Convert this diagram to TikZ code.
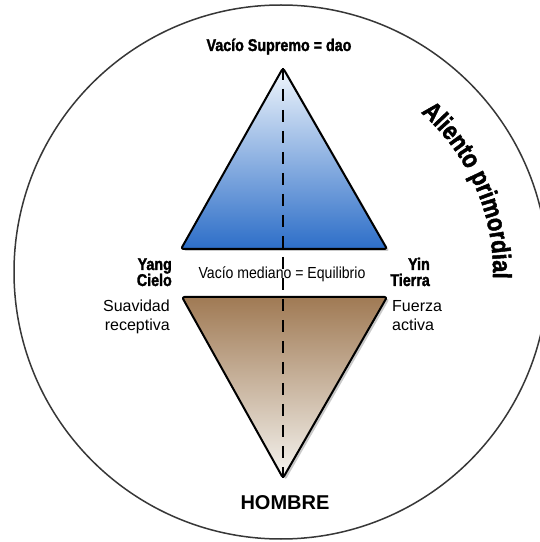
\documentclass[tikz,border=0pt]{standalone}
\usepackage{fontspec}
\setmainfont{Liberation Sans}
\newfontfamily\imp[FakeStretch=0.84,FakeBold=1.8]{Liberation Sans Bold}
\usetikzlibrary{decorations.text,shadows}
\definecolor{blueTop}{RGB}{240,246,252}
\definecolor{blueBot}{RGB}{45,110,200}
\definecolor{brownTop}{RGB}{160,122,84}
\definecolor{brownBot}{RGB}{245,244,240}
\definecolor{ring}{RGB}{55,55,55}
\begin{document}
\begin{tikzpicture}[x=1pt,y=1pt,
  tri/.style={draw=black,line width=2pt,rounded corners=2.5pt,line join=round,
    drop shadow={shadow xshift=2.5pt,shadow yshift=-2pt,opacity=0.35,fill=black!60}},
  cond/.style={font=\imp\fontsize{17}{17}\selectfont, inner sep=0pt},
  plain/.style={font=\fontsize{16}{16}\selectfont, inner sep=0pt}]
\useasboundingbox (0,0) rectangle (540,542);
\clip (0,0) rectangle (540,542);
\fill[white] (0,0) rectangle (540,542);
\coordinate (c) at (281,270);
\draw[ring, line width=1.5pt] (c) circle[radius=267];
% triangles
\coordinate (topA) at (283,474);
\coordinate (topL) at (181,293);
\coordinate (topR) at (387,293);
\coordinate (botL) at (182,245);
\coordinate (botR) at (387,245);
\coordinate (botA) at (283,64);
\path[tri, top color=blueTop, bottom color=blueBot] (topA) -- (topR) -- (topL) -- cycle;
\path[tri, top color=brownTop, bottom color=brownBot] (botL) -- (botR) -- (botA) -- cycle;
\draw[black, line width=1.4pt, dash pattern=on 12pt off 9pt] (topA) -- (botA);
% texts
\node[cond, anchor=base] (dao) at (279,491) {Vacío Supremo = dao};
\node[plain, anchor=base] (med) at (282,263) {\scalebox{0.88}[1]{Vacío mediano = Equilibrio}};
\node[font=\bfseries\fontsize{20}{20}\selectfont, inner sep=0pt, anchor=base] (hom) at (285,32) {HOMBRE};
\node[cond, anchor=base east] (yang) at (172,272) {Yang};
\node[cond, anchor=base east] (cielo) at (172,256) {Cielo};
\node[plain, anchor=base east] (suav) at (170,230) {Suavidad};
\node[plain, anchor=base east] (recep) at (170,211) {receptiva};
\node[cond, anchor=base east] (yin) at (430,272) {Yin};
\node[cond, anchor=base east] (tierra) at (430,256) {Tierra};
\node[plain, anchor=base west] (fuer) at (392,230) {Fuerza};
\node[plain, anchor=base west] (act) at (392,211) {activa};
\path[decorate, decoration={text along path, text align=center,
  text format delimiters={|}{|},
  text={|\imp\fontsize{26}{26}\selectfont|Aliento primordial}}]
  (c) ++(58:212) arc[start angle=58, end angle=-11, radius=212];
\end{tikzpicture}
\end{document}
